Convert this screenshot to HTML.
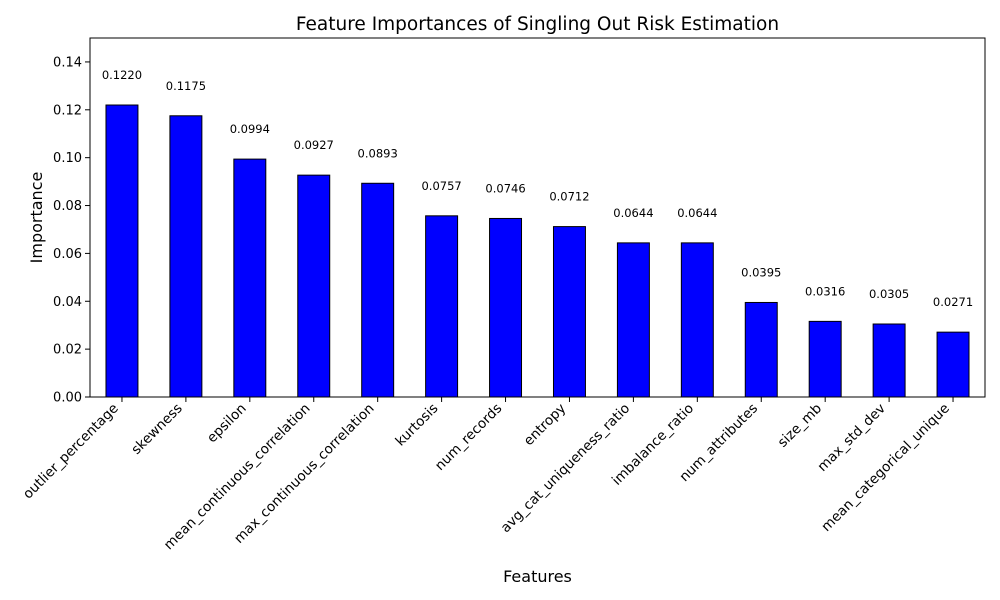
<!DOCTYPE html>
<html><head><meta charset="utf-8"><style>
body{margin:0;background:#fff;}
svg{display:block;font-family:"DejaVu Sans","Liberation Sans",sans-serif;}
</style></head><body>
<svg id="chart" width="1000" height="600" viewBox="0 0 1000 600" xmlns="http://www.w3.org/2000/svg">
<rect width="1000" height="600" fill="#fff"/>
<text x="537.5" y="30" text-anchor="middle" font-size="18.5">Feature Importances of Singling Out Risk Estimation</text>
<text x="537.5" y="582" text-anchor="middle" font-size="16">Features</text>
<text transform="translate(42,217.5) rotate(-90)" text-anchor="middle" font-size="16">Importance</text>
<g id="plot"></g>
</svg>
<script>
const categories=["outlier_percentage","skewness","epsilon","mean_continuous_correlation","max_continuous_correlation","kurtosis","num_records","entropy","avg_cat_uniqueness_ratio","imbalance_ratio","num_attributes","size_mb","max_std_dev","mean_categorical_unique"];
const values=[0.1220,0.1175,0.0994,0.0927,0.0893,0.0757,0.0746,0.0712,0.0644,0.0644,0.0395,0.0316,0.0305,0.0271];
const yTicks=[0,0.02,0.04,0.06,0.08,0.10,0.12,0.14];
const yTickLabels=["0.00","0.02","0.04","0.06","0.08","0.10","0.12","0.14"];
const L=90,R=985,T=38,B=397,YMAX=0.15;
const NS="http://www.w3.org/2000/svg";
const g=document.getElementById('plot');
const n=categories.length;
const step=(R-L)/n;
const xS=i=>L+(i+0.5)*step;
const yS=v=>B-(v/YMAX)*(B-T);
function mk(t,a){const e=document.createElementNS(NS,t);for(const k in a)e.setAttribute(k,a[k]);g.appendChild(e);return e;}
values.forEach((v,i)=>{
  const bw=step*0.5;
  const r=mk('rect',{x:xS(i)-bw/2,y:yS(v),width:bw,height:B-yS(v),fill:'#0000ff',stroke:'#000','stroke-width':1});
  
  
  const t=mk('text',{x:xS(i),y:yS(v+0.01)-2,'text-anchor':'middle','font-size':'11.5'});
  t.textContent=v.toFixed(4);
  
  
  const tk=mk('line',{x1:xS(i),x2:xS(i),y1:B,y2:B+5,stroke:'#000'});
  
  
  const xl=mk('text',{transform:`translate(${xS(i)-3},${B+12}) rotate(-45)`,'text-anchor':'end','font-size':'13.6'});
  xl.textContent=categories[i];
  
  
});
yTicks.forEach((v,i)=>{
  const tk=mk('line',{x1:L-5,x2:L,y1:yS(v),y2:yS(v),stroke:'#000'});
  
  
  const t=mk('text',{x:L-8,y:yS(v)+4.5,'text-anchor':'end','font-size':'13'});
  t.textContent=yTickLabels[i];
  
  
});
const fr=mk('rect',{x:L,y:T,width:R-L,height:B-T,fill:'none',stroke:'#000','stroke-width':1});


</script>
</body></html>
